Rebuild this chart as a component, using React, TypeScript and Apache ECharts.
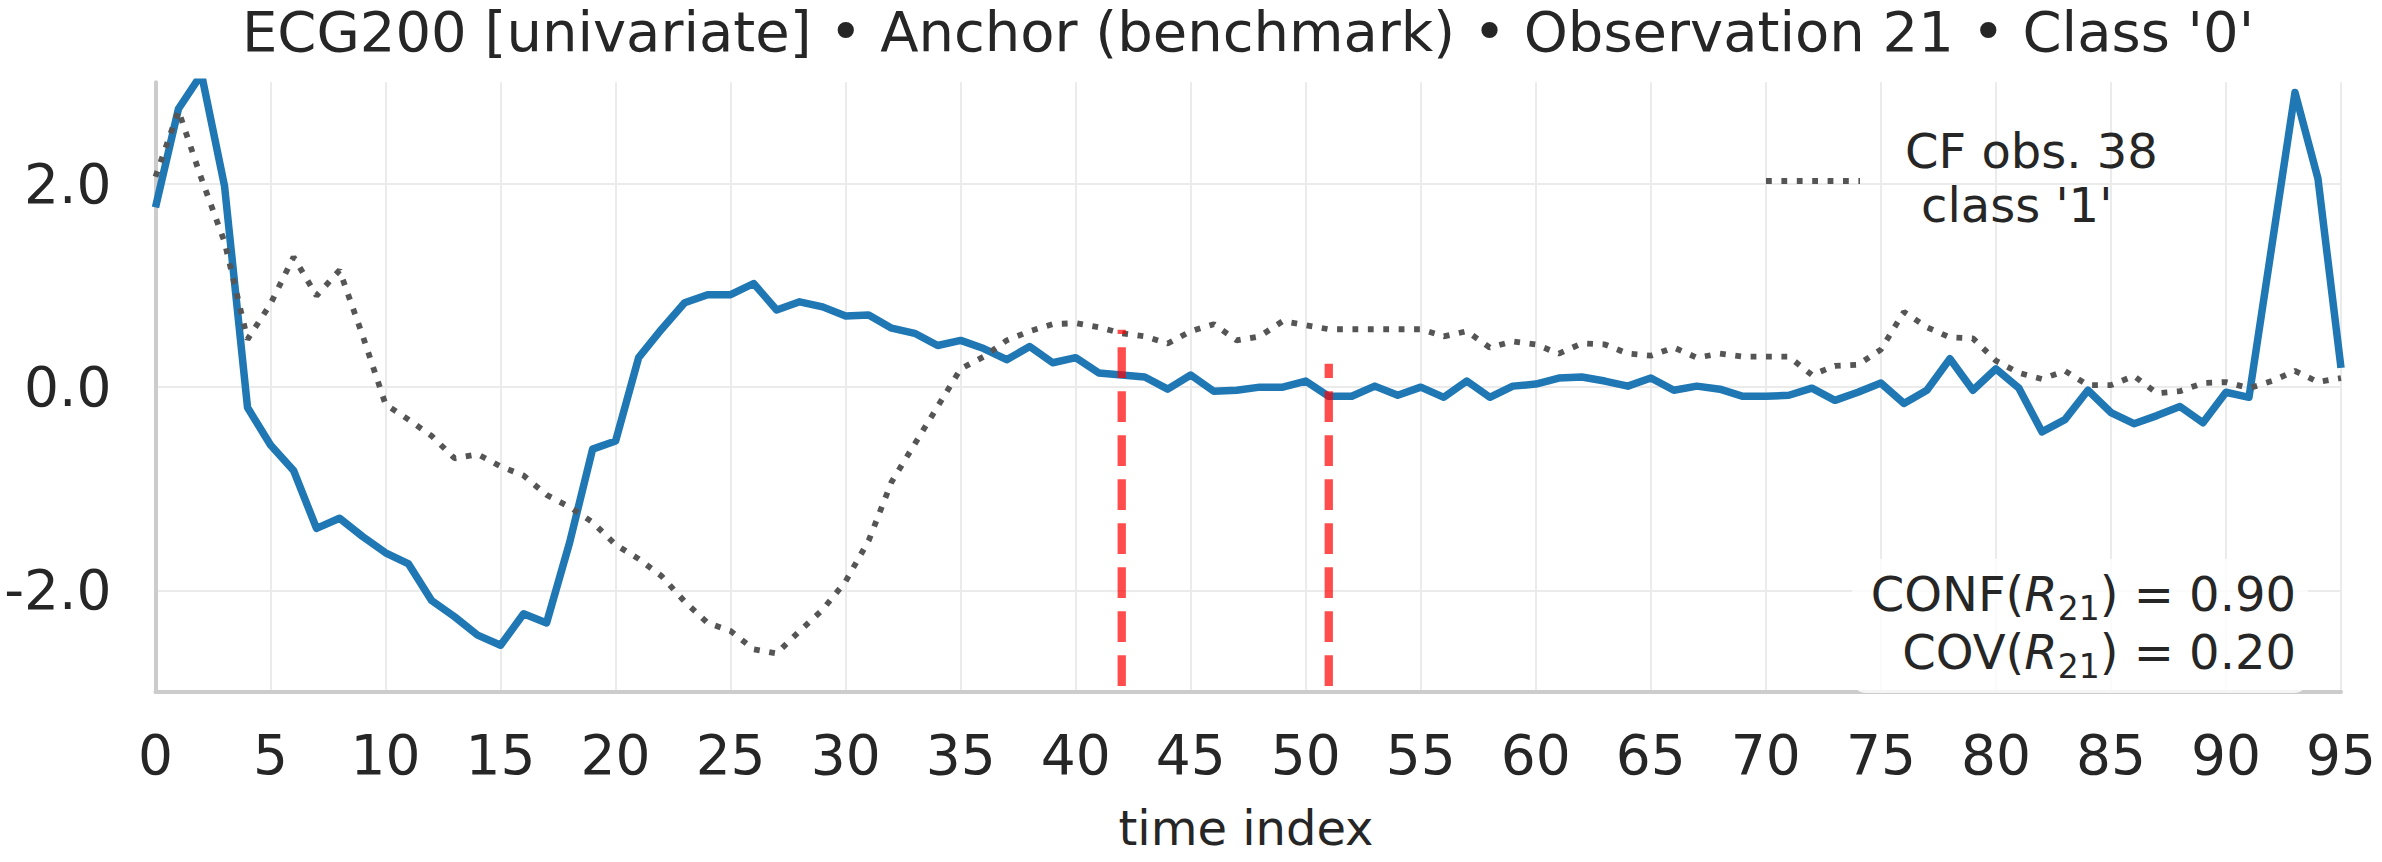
import React, { useEffect, useRef } from "react";
import * as echarts from "echarts";

// ---- data ----
const anchorValues = [
  1.77, 2.74, 3.08, 1.98, -0.2, -0.57, -0.82, -1.39, -1.29, -1.47,
  -1.63, -1.74, -2.1, -2.26, -2.44, -2.54, -2.23, -2.32, -1.53, -0.61,
  -0.53, 0.29, 0.57, 0.83, 0.91, 0.91, 1.02, 0.76, 0.84, 0.79,
  0.7, 0.71, 0.58, 0.53, 0.41, 0.46, 0.38, 0.27, 0.4, 0.24,
  0.29, 0.14, 0.12, 0.1, -0.02, 0.12, -0.04, -0.03, 0.0, 0.0,
  0.06, -0.09, -0.09, 0.01, -0.08, 0.0, -0.1, 0.06, -0.1, 0.01,
  0.03, 0.09, 0.1, 0.06, 0.01, 0.09, -0.03, 0.01, -0.02, -0.09,
  -0.09, -0.08, -0.01, -0.13, -0.05, 0.04, -0.16, -0.03, 0.28, -0.03,
  0.18, -0.01, -0.44, -0.32, -0.03, -0.25, -0.36, -0.28, -0.19, -0.35,
  -0.05, -0.1, 1.4, 2.9, 2.05, 0.19,
];

const cfValues = [
  2.07, 2.72, 2.05, 1.43, 0.47, 0.82, 1.28, 0.9, 1.15, 0.51,
  -0.17, -0.32, -0.48, -0.7, -0.66, -0.78, -0.87, -1.06, -1.18, -1.33,
  -1.55, -1.69, -1.86, -2.11, -2.32, -2.4, -2.58, -2.62, -2.4, -2.19,
  -1.91, -1.51, -0.93, -0.56, -0.19, 0.18, 0.3, 0.46, 0.55, 0.62,
  0.63, 0.59, 0.53, 0.5, 0.43, 0.55, 0.62, 0.46, 0.5, 0.65,
  0.61, 0.57, 0.57, 0.57, 0.57, 0.57, 0.5, 0.55, 0.39, 0.45,
  0.42, 0.33, 0.43, 0.42, 0.33, 0.31, 0.39, 0.29, 0.33, 0.3,
  0.3, 0.3, 0.12, 0.21, 0.22, 0.37, 0.74, 0.59, 0.49, 0.48,
  0.26, 0.14, 0.08, 0.16, 0.02, 0.02, 0.11, -0.06, -0.04, 0.04,
  0.05, -0.01, 0.06, 0.16, 0.05, 0.09,
];

const yTickValues = [-2, 0, 2];
const regionX = [42, 51];
const regionTop = [0.566, 0.23];
const regionBottom = -2.94;

const titleText =
  "ECG200 [univariate] \u2022 Anchor (benchmark) \u2022 Observation 21 \u2022 Class '0'";
const xAxisTitle = "time index";
const legendLine1 = "CF obs. 38";
const legendLine2 = "class '1'";
const confValue = "0.90";
const covValue = "0.20";
const ruleIndex = "21";

const FONT = "DejaVu Sans";
const TEXT_COLOR = "#262626";

export default function App() {
  const ref = useRef<HTMLDivElement>(null);

  useEffect(() => {
    if (!ref.current) return;
    const chart = echarts.init(ref.current, undefined, { renderer: "svg" });

    const toPairs = (vals: number[]) => vals.map((v, i) => [i, v]);

    const richBase = {
      n: { fontSize: 48, fontFamily: FONT, fill: TEXT_COLOR, lineHeight: 48 },
      i: { fontSize: 48, fontFamily: FONT, fontStyle: "italic", fill: TEXT_COLOR, lineHeight: 48 },
      s: { fontSize: 33, fontFamily: FONT, fill: TEXT_COLOR, padding: [28, 0, 0, 0] },
    };

    const option: any = {
      animation: false,
      backgroundColor: "#ffffff",
      textStyle: { fontFamily: FONT },
      grid: { left: 155.5, right: 41, top: 82.3, bottom: 170, containLabel: false },
      xAxis: {
        type: "value",
        min: 0,
        max: 95,
        interval: 5,
        axisLine: { show: true, onZero: false, lineStyle: { color: "#cccccc", width: 4 } },
        axisTick: { show: false },
        axisLabel: { fontSize: 55, color: TEXT_COLOR, margin: 35, fontFamily: FONT },
        splitLine: { show: true, lineStyle: { color: "#ebebeb", width: 2 } },
      },
      yAxis: {
        type: "value",
        min: -3,
        max: 3,
        interval: 1,
        axisLine: { show: true, onZero: false, lineStyle: { color: "#cccccc", width: 4 } },
        axisTick: { show: false },
        axisLabel: {
          fontSize: 55,
          color: TEXT_COLOR,
          margin: 44,
          fontFamily: FONT,
          formatter: (v: number) => (yTickValues.includes(v) ? v.toFixed(1) : ""),
        },
        splitLine: {
          show: true,
          lineStyle: { color: ["rgba(0,0,0,0)", "#ebebeb"], width: 2 },
        },
      },
      series: [
        {
          name: "anchor",
          type: "line",
          data: toPairs(anchorValues),
          showSymbol: false,
          symbol: "none",
          z: 3,
          lineStyle: { color: "#1f77b4", width: 7.5, join: "round", cap: "butt" },
        },
        {
          name: legendLine1,
          type: "line",
          data: toPairs(cfValues),
          showSymbol: false,
          symbol: "none",
          z: 4,
          lineStyle: { color: "#555555", width: 5.8, type: [5.8, 9.6], cap: "butt" },
        },
        ...regionX.map((x, k) => ({
          name: "region" + k,
          type: "line",
          data: [
            [x, regionBottom],
            [x, regionTop[k]],
          ],
          showSymbol: false,
          symbol: "none",
          z: 5,
          lineStyle: { color: "rgba(255,0,0,0.7)", width: 8.3, type: [30.7, 13.3], cap: "butt" },
        })),
      ],
      graphic: [
        {
          type: "text",
          x: 1248,
          y: 31.3,
          z: 60,
          style: {
            text: titleText,
            fontSize: 56,
            fontFamily: FONT,
            fill: TEXT_COLOR,
            align: "center",
            verticalAlign: "middle",
          },
        },
        {
          type: "text",
          x: 1246,
          y: 828.4,
          z: 60,
          style: {
            text: xAxisTitle,
            fontSize: 48,
            fontFamily: FONT,
            fill: TEXT_COLOR,
            align: "center",
            verticalAlign: "middle",
          },
        },
        {
          type: "line",
          z: 60,
          shape: { x1: 1766, y1: 181, x2: 1860, y2: 181 },
          style: { stroke: "#555555", lineWidth: 5.8, lineDash: [5.8, 9.6], lineCap: "butt" },
        },
        {
          type: "text",
          x: 1905,
          y: 151,
          z: 60,
          style: {
            text: legendLine1,
            fontSize: 48,
            fontFamily: FONT,
            fill: TEXT_COLOR,
            align: "left",
            verticalAlign: "middle",
          },
        },
        {
          type: "text",
          x: 1921,
          y: 205.3,
          z: 60,
          style: {
            text: legendLine2,
            fontSize: 48,
            fontFamily: FONT,
            fill: TEXT_COLOR,
            align: "left",
            verticalAlign: "middle",
          },
        },
        {
          type: "rect",
          z: 55,
          shape: { x: 1852, y: 559, width: 456, height: 134, r: 14 },
          style: { fill: "rgba(255,255,255,0.8)", stroke: "none" },
        },
        {
          type: "text",
          x: 2296,
          y: 594,
          z: 60,
          style: {
            text: `{n|CONF(}{i|R}{s|${ruleIndex}}{n|) = ${confValue}}`,
            rich: richBase,
            align: "right",
            verticalAlign: "middle",
          },
        },
        {
          type: "text",
          x: 2296,
          y: 652,
          z: 60,
          style: {
            text: `{n|COV(}{i|R}{s|${ruleIndex}}{n|) = ${covValue}}`,
            rich: richBase,
            align: "right",
            verticalAlign: "middle",
          },
        },
      ],
    };

    chart.setOption(option);
    return () => chart.dispose();
  }, []);

  return (
    <div
      ref={ref}
      style={{ position: "absolute", left: 0, top: 0, width: 2382, height: 862, background: "#fff" }}
    />
  );
}
